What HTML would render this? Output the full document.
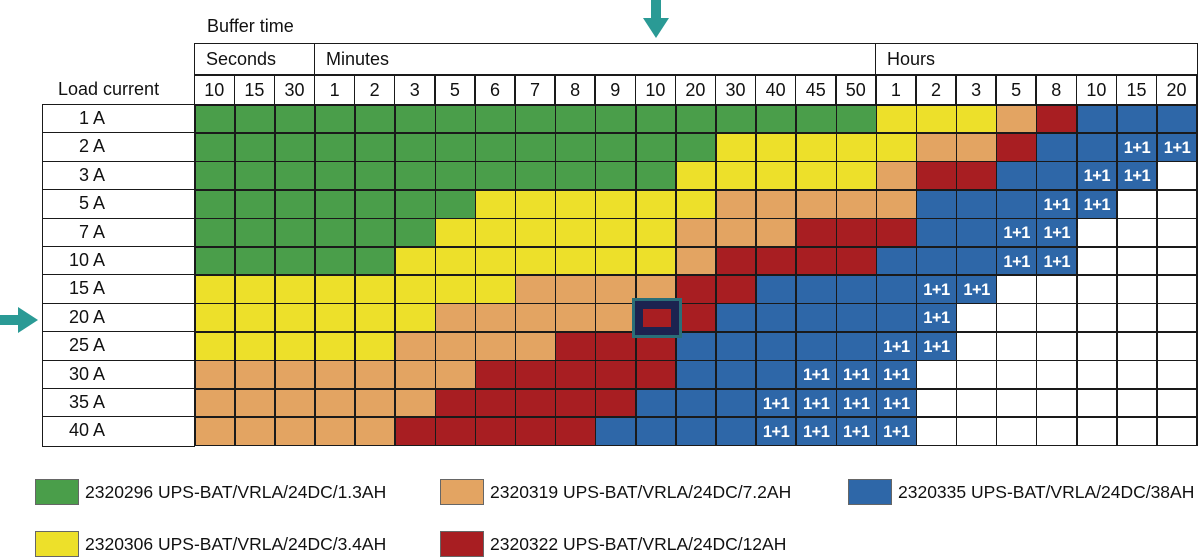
<!DOCTYPE html>
<html><head><meta charset="utf-8"><style>
*{margin:0;padding:0;box-sizing:border-box}
body{width:1200px;height:556px;background:#fff;position:relative;overflow:hidden;font-family:"Liberation Sans",sans-serif;color:#111}
.abs{position:absolute}
.grid{position:absolute;left:194px;top:104px;display:grid;grid-template-columns:repeat(25,38.6px);grid-auto-rows:26.92px;gap:1.5px;background:#1a1a1a;padding:1.5px}
.grid i{display:block;color:#fff;font-style:normal;font-size:16.5px;font-weight:bold;text-align:center;line-height:28px;letter-spacing:-0.5px}
.g{background:#4a9e4a}.y{background:#ede02a}.o{background:#e3a462}.r{background:#a81e22}.b{background:#2e67a8}.w{background:#fff}
.hdr{position:absolute;left:194px;top:43px;width:1004px;height:62px;border:1.5px solid #1a1a1a;border-bottom:none}
.h1{position:absolute;top:0;height:30px;border-right:1.5px solid #1a1a1a;font-size:18px;line-height:30px;padding-left:11px}
.nums{position:absolute;left:-1.5px;top:30px;display:grid;grid-template-columns:repeat(25,38.6px);gap:1.5px;background:#1a1a1a;padding:1.5px 1.5px 0 1.5px;}
.nums span{background:#fff;height:29px;font-size:18px;line-height:29px;text-align:center}
.lab{position:absolute;left:42px;top:104px;width:153px;border:1.5px solid #1a1a1a;border-right:none}
.lab div{height:28.42px;border-bottom:1.5px solid #1a1a1a;font-size:18px;line-height:27px;text-align:right;padding-right:90px}
.lab div:last-child{border-bottom:none}
.leg{position:absolute;font-size:17.5px;line-height:26px;white-space:nowrap}
.leg s{display:inline-block;width:44px;height:26px;border:1px solid #666;vertical-align:top;margin-right:6px;text-decoration:none}
</style></head><body>
<div class="abs" style="left:207px;top:16px;font-size:18px">Buffer time</div>
<div class="abs" style="left:58px;top:79px;font-size:18px">Load current</div>
<div class="hdr">
<div class="h1" style="left:0;width:120px">Seconds</div>
<div class="h1" style="left:120px;width:561px">Minutes</div>
<div class="h1" style="left:681px;width:320px;border-right:none">Hours</div>
<div class="nums"><span>10</span><span>15</span><span>30</span><span>1</span><span>2</span><span>3</span><span>5</span><span>6</span><span>7</span><span>8</span><span>9</span><span>10</span><span>20</span><span>30</span><span>40</span><span>45</span><span>50</span><span>1</span><span>2</span><span>3</span><span>5</span><span>8</span><span>10</span><span>15</span><span>20</span></div>
</div>
<div class="lab"><div>1 A</div><div>2 A</div><div>3 A</div><div>5 A</div><div>7 A</div><div>10 A</div><div>15 A</div><div>20 A</div><div>25 A</div><div>30 A</div><div>35 A</div><div>40 A</div></div>
<div class="grid">
<!--1A--><i class=g></i><i class=g></i><i class=g></i><i class=g></i><i class=g></i><i class=g></i><i class=g></i><i class=g></i><i class=g></i><i class=g></i><i class=g></i><i class=g></i><i class=g></i><i class=g></i><i class=g></i><i class=g></i><i class=g></i><i class=y></i><i class=y></i><i class=y></i><i class=o></i><i class=r></i><i class=b></i><i class=b></i><i class=b></i>
<!--2A--><i class=g></i><i class=g></i><i class=g></i><i class=g></i><i class=g></i><i class=g></i><i class=g></i><i class=g></i><i class=g></i><i class=g></i><i class=g></i><i class=g></i><i class=g></i><i class=y></i><i class=y></i><i class=y></i><i class=y></i><i class=y></i><i class=o></i><i class=o></i><i class=r></i><i class=b></i><i class=b></i><i class=b>1+1</i><i class=b>1+1</i>
<!--3A--><i class=g></i><i class=g></i><i class=g></i><i class=g></i><i class=g></i><i class=g></i><i class=g></i><i class=g></i><i class=g></i><i class=g></i><i class=g></i><i class=g></i><i class=y></i><i class=y></i><i class=y></i><i class=y></i><i class=y></i><i class=o></i><i class=r></i><i class=r></i><i class=b></i><i class=b></i><i class=b>1+1</i><i class=b>1+1</i><i class=w></i>
<!--5A--><i class=g></i><i class=g></i><i class=g></i><i class=g></i><i class=g></i><i class=g></i><i class=g></i><i class=y></i><i class=y></i><i class=y></i><i class=y></i><i class=y></i><i class=y></i><i class=o></i><i class=o></i><i class=o></i><i class=o></i><i class=o></i><i class=b></i><i class=b></i><i class=b></i><i class=b>1+1</i><i class=b>1+1</i><i class=w></i><i class=w></i>
<!--7A--><i class=g></i><i class=g></i><i class=g></i><i class=g></i><i class=g></i><i class=g></i><i class=y></i><i class=y></i><i class=y></i><i class=y></i><i class=y></i><i class=y></i><i class=o></i><i class=o></i><i class=o></i><i class=r></i><i class=r></i><i class=r></i><i class=b></i><i class=b></i><i class=b>1+1</i><i class=b>1+1</i><i class=w></i><i class=w></i><i class=w></i>
<!--10A--><i class=g></i><i class=g></i><i class=g></i><i class=g></i><i class=g></i><i class=y></i><i class=y></i><i class=y></i><i class=y></i><i class=y></i><i class=y></i><i class=y></i><i class=o></i><i class=r></i><i class=r></i><i class=r></i><i class=r></i><i class=b></i><i class=b></i><i class=b></i><i class=b>1+1</i><i class=b>1+1</i><i class=w></i><i class=w></i><i class=w></i>
<!--15A--><i class=y></i><i class=y></i><i class=y></i><i class=y></i><i class=y></i><i class=y></i><i class=y></i><i class=y></i><i class=o></i><i class=o></i><i class=o></i><i class=o></i><i class=r></i><i class=r></i><i class=b></i><i class=b></i><i class=b></i><i class=b></i><i class=b>1+1</i><i class=b>1+1</i><i class=w></i><i class=w></i><i class=w></i><i class=w></i><i class=w></i>
<!--20A--><i class=y></i><i class=y></i><i class=y></i><i class=y></i><i class=y></i><i class=y></i><i class=o></i><i class=o></i><i class=o></i><i class=o></i><i class=o></i><i class=r></i><i class=r></i><i class=b></i><i class=b></i><i class=b></i><i class=b></i><i class=b></i><i class=b>1+1</i><i class=w></i><i class=w></i><i class=w></i><i class=w></i><i class=w></i><i class=w></i>
<!--25A--><i class=y></i><i class=y></i><i class=y></i><i class=y></i><i class=y></i><i class=o></i><i class=o></i><i class=o></i><i class=o></i><i class=r></i><i class=r></i><i class=r></i><i class=b></i><i class=b></i><i class=b></i><i class=b></i><i class=b></i><i class=b>1+1</i><i class=b>1+1</i><i class=w></i><i class=w></i><i class=w></i><i class=w></i><i class=w></i><i class=w></i>
<!--30A--><i class=o></i><i class=o></i><i class=o></i><i class=o></i><i class=o></i><i class=o></i><i class=o></i><i class=r></i><i class=r></i><i class=r></i><i class=r></i><i class=r></i><i class=b></i><i class=b></i><i class=b></i><i class=b>1+1</i><i class=b>1+1</i><i class=b>1+1</i><i class=w></i><i class=w></i><i class=w></i><i class=w></i><i class=w></i><i class=w></i><i class=w></i>
<!--35A--><i class=o></i><i class=o></i><i class=o></i><i class=o></i><i class=o></i><i class=o></i><i class=r></i><i class=r></i><i class=r></i><i class=r></i><i class=r></i><i class=b></i><i class=b></i><i class=b></i><i class=b>1+1</i><i class=b>1+1</i><i class=b>1+1</i><i class=b>1+1</i><i class=w></i><i class=w></i><i class=w></i><i class=w></i><i class=w></i><i class=w></i><i class=w></i>
<!--40A--><i class=o></i><i class=o></i><i class=o></i><i class=o></i><i class=o></i><i class=r></i><i class=r></i><i class=r></i><i class=r></i><i class=r></i><i class=b></i><i class=b></i><i class=b></i><i class=b></i><i class=b>1+1</i><i class=b>1+1</i><i class=b>1+1</i><i class=b>1+1</i><i class=w></i><i class=w></i><i class=w></i><i class=w></i><i class=w></i><i class=w></i><i class=w></i>
</div>
<div class="abs" style="left:632px;top:298px;width:50px;height:40px;border:3px solid #2a6f78;"></div>
<div class="abs" style="left:635px;top:301px;width:44px;height:34px;border:8px solid #1c2350;"></div>
<svg class="abs" style="left:0;top:0" width="1200" height="556">
<polygon points="651,0 661,0 661,18 669,18 656,38 643,18 651,18" fill="#2a9a95"/>
<polygon points="0,315 18,315 18,307 38,320 18,333 18,325 0,325" fill="#2a9a95"/>
</svg>
<div class="leg" style="left:35px;top:479px"><s class="g"></s>2320296 UPS-BAT/VRLA/24DC/1.3AH</div>
<div class="leg" style="left:35px;top:531px"><s class="y"></s>2320306 UPS-BAT/VRLA/24DC/3.4AH</div>
<div class="leg" style="left:440px;top:479px"><s class="o"></s>2320319 UPS-BAT/VRLA/24DC/7.2AH</div>
<div class="leg" style="left:440px;top:531px"><s class="r"></s>2320322 UPS-BAT/VRLA/24DC/12AH</div>
<div class="leg" style="left:848px;top:479px"><s class="b"></s>2320335 UPS-BAT/VRLA/24DC/38AH</div>
</body></html>
